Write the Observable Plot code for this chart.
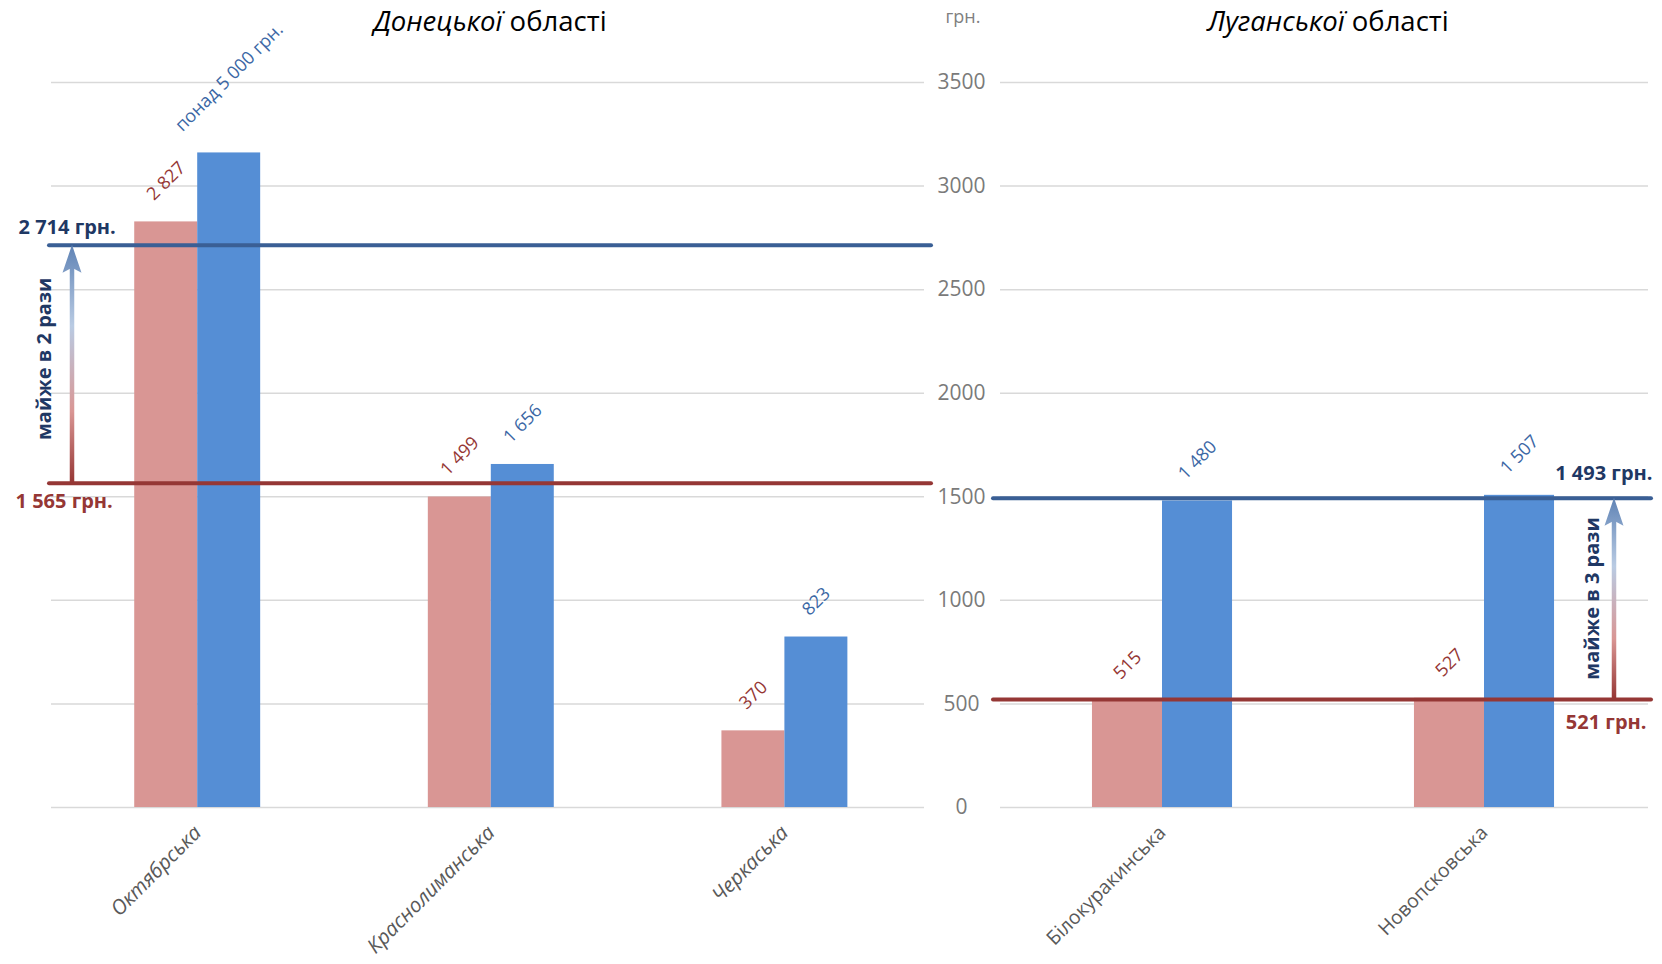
<!DOCTYPE html>
<html>
<head>
<meta charset="utf-8">
<script src="https://cdn.jsdelivr.net/npm/d3@7"></script>
<script src="https://cdn.jsdelivr.net/npm/@observablehq/plot@0.6"></script>
<style>
  body { margin: 0; background: #fff; font-family: "Open Sans", sans-serif; }
  #wrap { position: relative; width: 1662px; height: 964px; overflow: hidden; }
  .abs { position: absolute; }
  .title { font-size: 27.5px; color: #000; transform: translate(-50%, -50%); white-space: nowrap; }
  .unit { font-size: 18px; color: #808080; transform: translate(-50%, -50%); }
</style>
</head>
<body>
<div id="wrap"></div>
<script>
// ---------------- data ----------------
const yTicks = [0, 500, 1000, 1500, 2000, 2500, 3000, 3500];

const donCats = ["Октябрська", "Краснолиманська", "Черкаська"];
const donPink = [2827, 1499, 370];
const donBlue = [3160, 1656, 823];
const donPinkLabels = ["2 827", "1 499", "370"];
const donBlueLabels = ["понад 5 000 грн.", "1 656", "823"];
const donAvgPink = 1565;
const donAvgBlue = 2714;
const donAvgPinkLabel = "1 565 грн.";
const donAvgBlueLabel = "2 714 грн.";
const donArrowLabel = "майже в 2 рази";
const donTitleItalic = "Донецької";

const lugCats = ["Білокуракинська", "Новопсковська"];
const lugPink = [515, 527];
const lugBlue = [1480, 1507];
const lugPinkLabels = ["515", "527"];
const lugBlueLabels = ["1 480", "1 507"];
const lugAvgPink = 521;
const lugAvgBlue = 1493;
const lugAvgPinkLabel = "521 грн.";
const lugAvgBlueLabel = "1 493 грн.";
const lugArrowLabel = "майже в 3 рази";
const lugTitleItalic = "Луганської";

const titleRest = " області";
const unitLabel = "грн.";

// ---------------- style ----------------
const C = {
  pink: "#d99694", blue: "#558ed5",
  redLine: "#953735", blueLine: "#3a5f95",
  redText: "#953735", blueText: "#3b67a5",
  navy: "#1f3864", grid: "#d9d9d9", axis: "#595959", tick: "#7a7a7a"
};
const FONT = "Open Sans";
const H = 964, MT = 82, MB = 157;
const LABEL_SIZE = 18;

const ctx = document.createElement("canvas").getContext("2d");
function textW(s, size) { ctx.font = `${size}px "${FONT}"`; return ctx.measureText(s).width; }

let gradId = 0;
function arrowMark(lo, hi, label, arrowX, textX, textShift) {
  return (index, scales, values, dim) => {
    const y0 = scales.y(lo), y1 = scales.y(hi);
    const x = arrowX(dim), tx = textX(dim);
    const id = "arrowGrad" + (gradId++);
    const g = d3.create("svg:g");
    const grad = g.append("defs").append("linearGradient")
      .attr("id", id).attr("gradientUnits", "userSpaceOnUse")
      .attr("x1", x).attr("x2", x).attr("y1", y0).attr("y2", y1);
    [[0, "#963634"], [0.3, "#d99694"], [0.66, "#b9cbe3"], [1, "#5f83b5"]]
      .forEach(([o, c]) => grad.append("stop").attr("offset", o).attr("stop-color", c));
    g.append("line").attr("x1", x).attr("x2", x).attr("y1", y0).attr("y2", y1 + 22)
      .attr("stroke", `url(#${id})`).attr("stroke-width", 4.5);
    g.append("path")
      .attr("d", `M${x},${y1} L${x - 9.5},${y1 + 28} L${x},${y1 + 23} L${x + 9.5},${y1 + 28} Z`)
      .attr("fill", `url(#${id})`);
    g.append("text")
      .attr("transform", `translate(${tx},${(y0 + y1) / 2 + textShift}) rotate(-90)`)
      .attr("text-anchor", "middle").attr("dominant-baseline", "central")
      .attr("font-family", FONT).attr("font-weight", "bold").attr("font-size", 20)
      .attr("fill", C.navy).text(label);
    return g.node();
  };
}

function chart(o) {
  const rows = o.cats.map((c, i) => ({cat: c, pink: o.pink[i], blue: o.blue[i], pl: o.pinkLabels[i], bl: o.blueLabels[i]}));
  const bw = (o.xRange[1] - o.xRange[0]) / o.cats.length * (1 - o.pad);
  const labelMarks = [];
  rows.forEach(r => {
    [["pink", "pl", -bw / 4, C.redText], ["blue", "bl", bw / 4, C.blueText]].forEach(([k, lk, dx, col]) => {
      const L = textW(r[lk], LABEL_SIZE);
      labelMarks.push(Plot.text([r], {
        x: "cat", y: k, text: lk, rotate: -45, textAnchor: "middle", lineAnchor: "middle",
        dx, dy: -(20 + 4.6 + L * 0.354), fill: col, fontSize: LABEL_SIZE
      }));
    });
  });
  const marks = [
    Plot.gridY({ticks: yTicks, stroke: C.grid, strokeOpacity: 1, strokeWidth: 1.5}),
    Plot.barY(rows, {x: "cat", y: "pink", fill: C.pink, insetRight: bw / 2, insetLeft: 0}),
    Plot.barY(rows, {x: "cat", y: "blue", fill: C.blue, insetLeft: bw / 2, insetRight: 0}),
    Plot.ruleY([o.avgBlue], {stroke: C.blueLine, strokeWidth: 4, strokeLinecap: "round", insetLeft: o.ruleInL, insetRight: o.ruleInR}),
    Plot.ruleY([o.avgPink], {stroke: C.redLine, strokeWidth: 4, strokeLinecap: "round", insetLeft: o.ruleInL, insetRight: o.ruleInR}),
    ...labelMarks,
    Plot.text([o.avgBlue], {y: d => d, text: [o.avgBlueLabel], frameAnchor: o.avgAnchor, textAnchor: o.avgTA, dx: o.avgBlueDx, dy: o.avgBlueDy, fill: C.navy, fontWeight: "bold", fontSize: 20}),
    Plot.text([o.avgPink], {y: d => d, text: [o.avgPinkLabel], frameAnchor: o.avgAnchor, textAnchor: o.avgTA, dx: o.avgPinkDx, dy: o.avgPinkDy, fill: C.redText, fontWeight: "bold", fontSize: 20}),
    arrowMark(o.avgPink, o.avgBlue, o.arrowLabel, o.arrowX, o.textX, o.textShift),
    Plot.axisX({tickSize: 0, tickRotate: -45, tickPadding: 22, fontSize: o.italicX ? 20.5 : 19.5, fill: C.axis, fontStyle: o.italicX ? "italic" : "normal", label: null})
  ];
  if (o.yAxis) marks.push(Plot.axisY({ticks: yTicks, tickFormat: d => String(d), tickSize: 0, tickPadding: 39, textAnchor: "middle", fontSize: 21, fill: C.tick, label: null}));
  return Plot.plot({
    width: o.width, height: H,
    marginLeft: o.mL, marginRight: o.mR, marginTop: MT, marginBottom: MB,
    style: {background: "transparent", overflow: "visible", fontFamily: FONT},
    x: {type: "band", domain: o.cats, range: o.xRange, paddingInner: o.pad, paddingOuter: o.pad / 2, round: false, label: null},
    y: {domain: [0, 3500], label: null, ...(o.yAxis ? {} : {axis: null})},
    marks
  });
}

const wrap = document.getElementById("wrap");

const left = chart({
  cats: donCats, pink: donPink, blue: donBlue, pinkLabels: donPinkLabels, blueLabels: donBlueLabels,
  avgPink: donAvgPink, avgBlue: donAvgBlue, avgPinkLabel: donAvgPinkLabel, avgBlueLabel: donAvgBlueLabel,
  arrowLabel: donArrowLabel, width: 940, mL: 51, mR: 16, xRange: [50.4, 931.2], pad: 0.571,
  ruleInL: -2, ruleInR: -7,
  avgAnchor: "left", avgTA: "start", avgBlueDx: -33, avgBlueDy: -18, avgPinkDx: -36, avgPinkDy: 18,
  arrowX: d => d.marginLeft + 21, textX: d => d.marginLeft - 8, textShift: -5,
  italicX: true, yAxis: false
});
left.classList.add("abs"); left.style.left = "0px"; left.style.top = "0px";
wrap.appendChild(left);

const right = chart({
  cats: lugCats, pink: lugPink, blue: lugBlue, pinkLabels: lugPinkLabels, blueLabels: lugBlueLabels,
  avgPink: lugAvgPink, avgBlue: lugAvgBlue, avgPinkLabel: lugAvgPinkLabel, avgBlueLabel: lugAvgBlueLabel,
  arrowLabel: lugArrowLabel, width: 762, mL: 100, mR: 14, xRange: [101, 745], pad: 0.565,
  ruleInL: -7, ruleInR: -3,
  avgAnchor: "right", avgTA: "end", avgBlueDx: 4, avgBlueDy: -25, avgPinkDx: -2, avgPinkDy: 23,
  arrowX: d => d.width - d.marginRight - 34, textX: d => d.width - d.marginRight - 57, textShift: 0,
  italicX: false, yAxis: true
});
right.classList.add("abs"); right.style.left = "900px"; right.style.top = "0px";
wrap.appendChild(right);

function addTitle(italic, x) {
  const d = document.createElement("div");
  d.className = "abs title";
  d.style.left = x + "px"; d.style.top = "20px";
  const i = document.createElement("i"); i.textContent = italic;
  d.appendChild(i); d.appendChild(document.createTextNode(titleRest));
  wrap.appendChild(d);
}
addTitle(donTitleItalic, 490);
addTitle(lugTitleItalic, 1328);

const u = document.createElement("div");
u.className = "abs unit"; u.style.left = "963px"; u.style.top = "16px"; u.textContent = unitLabel;
wrap.appendChild(u);
</script>
</body>
</html>
